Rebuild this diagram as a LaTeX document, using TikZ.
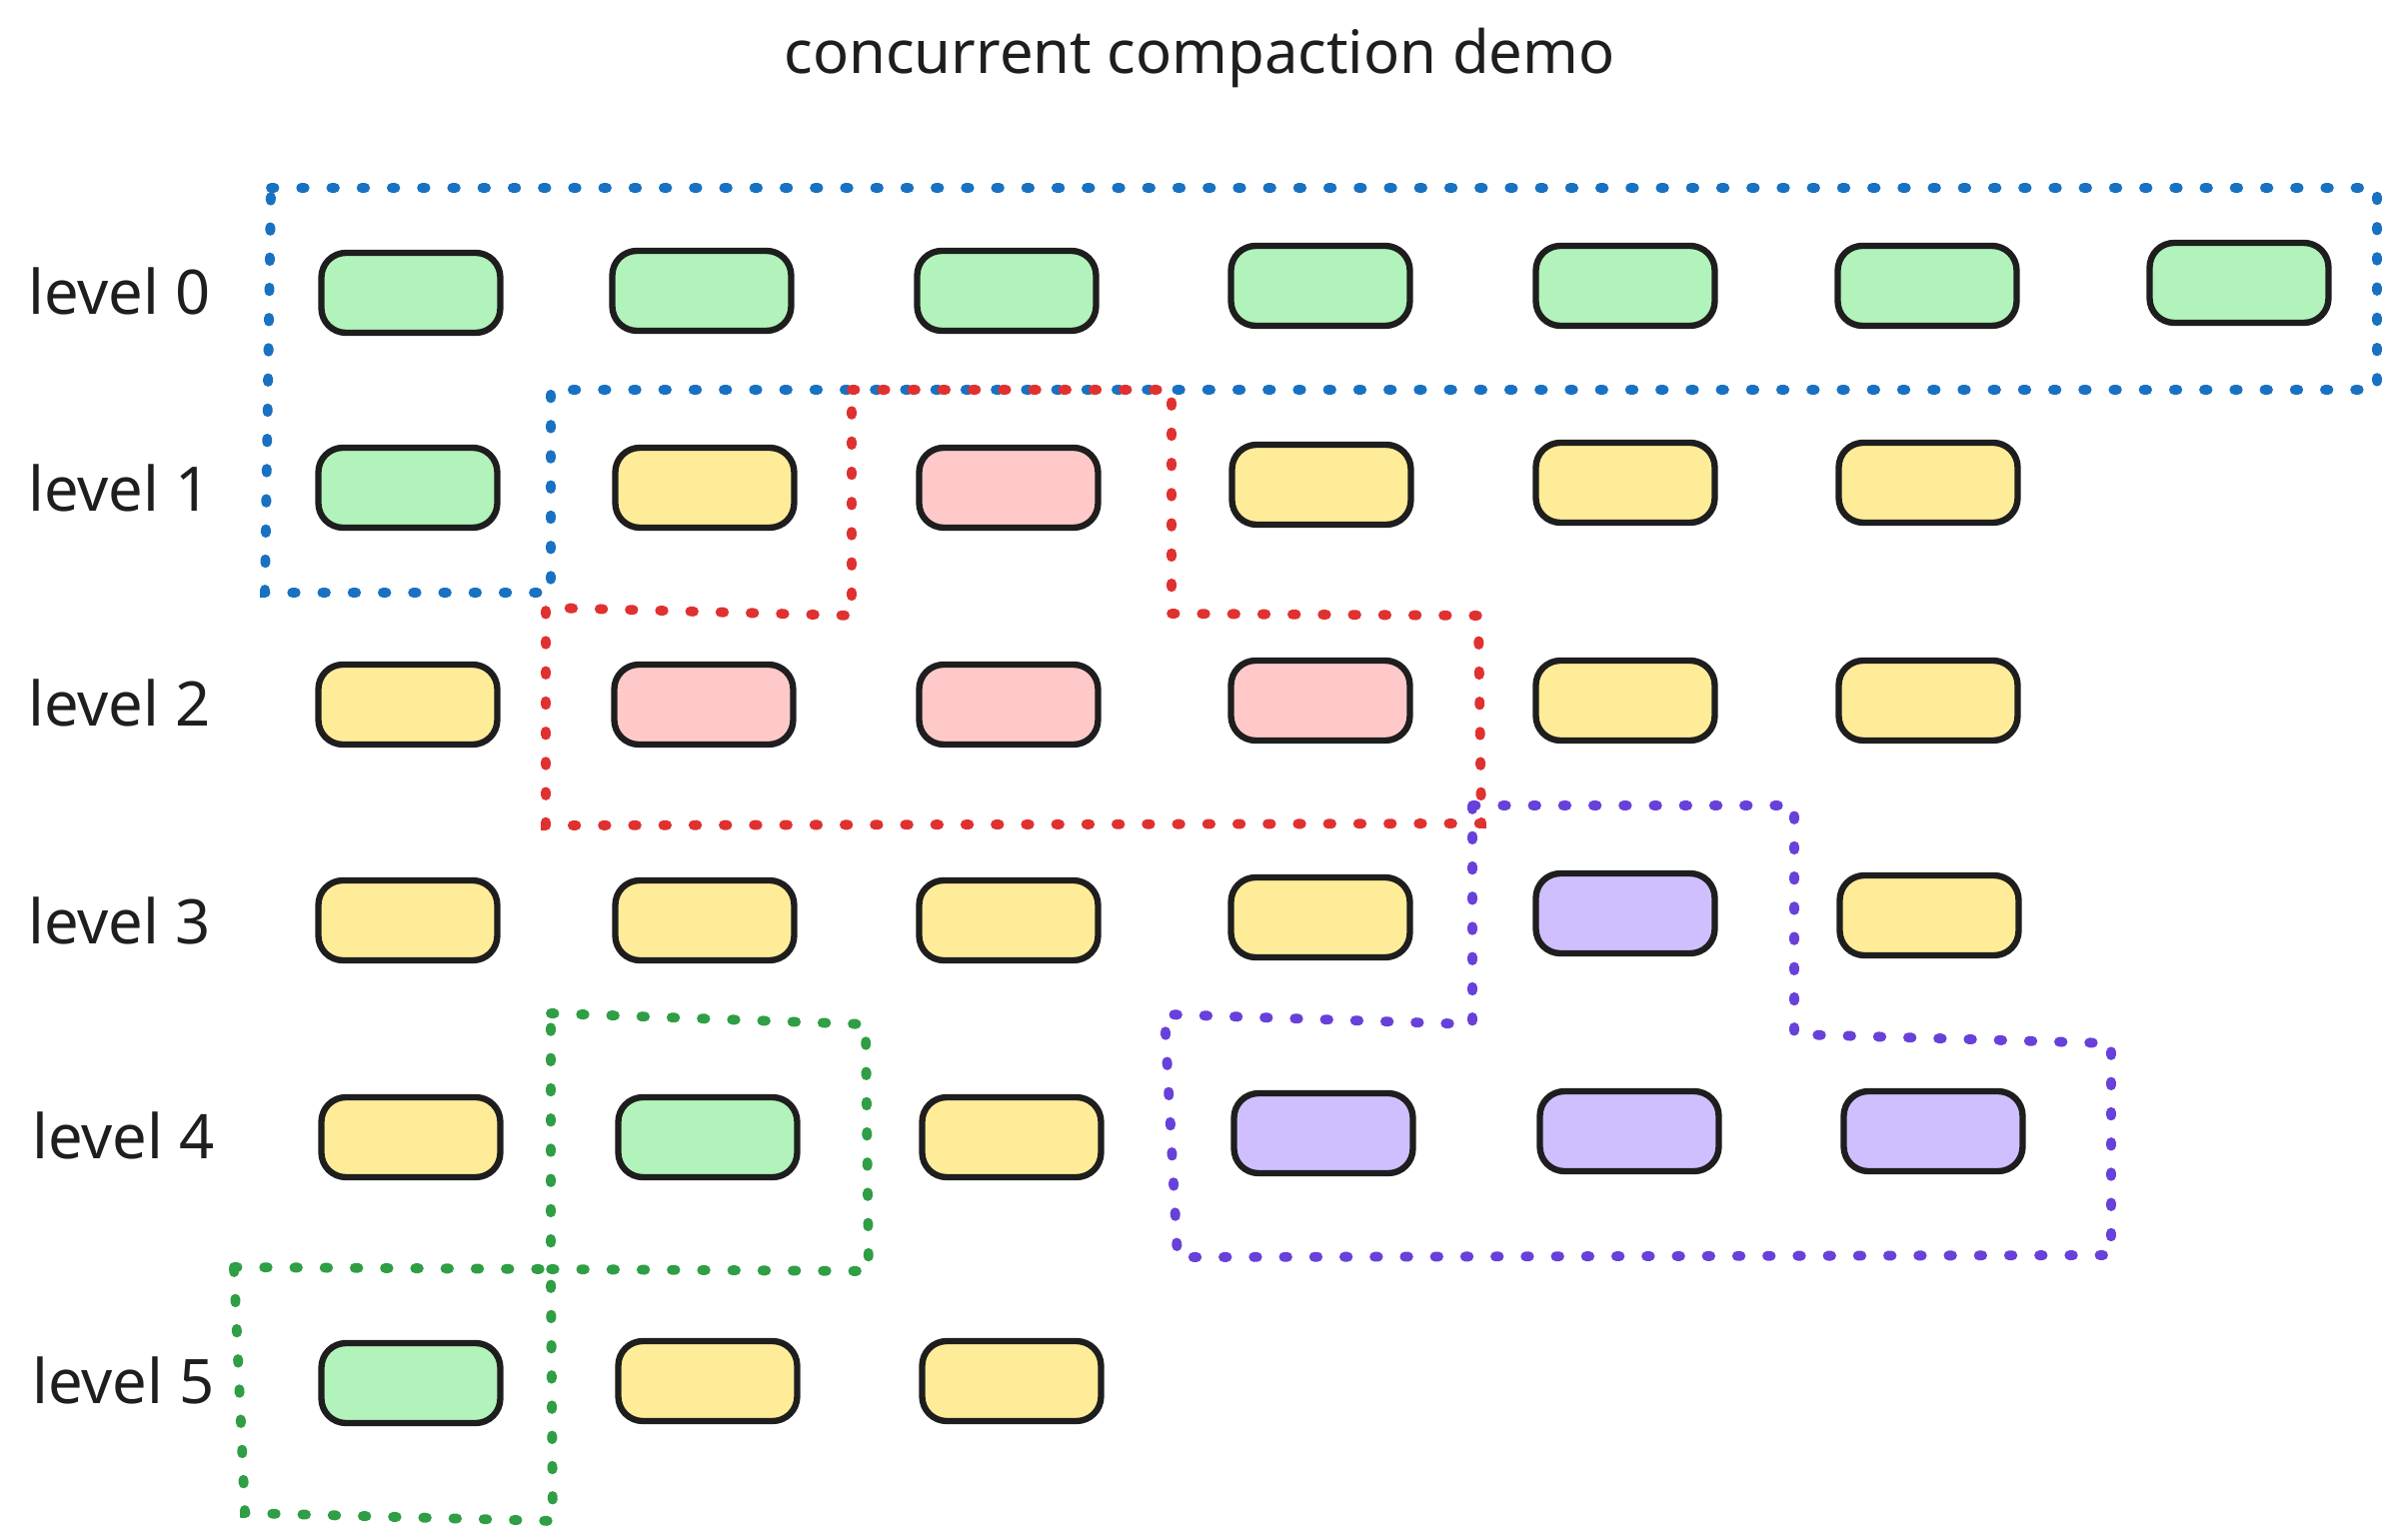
\documentclass[tikz,border=0pt]{standalone}
\usepackage{fontspec}
\setmainfont{Noto Sans}
\definecolor{ink}{HTML}{1E1E1E}
\definecolor{sstgreen}{HTML}{B2F2BB}
\definecolor{sstyellow}{HTML}{FFEC99}
\definecolor{sstred}{HTML}{FFC9C9}
\definecolor{sstpurple}{HTML}{D0BFFF}
\definecolor{zoneblue}{HTML}{1971C2}
\definecolor{zonered}{HTML}{E03131}
\definecolor{zonepurple}{HTML}{6741D9}
\definecolor{zonegreen}{HTML}{2F9E44}
\usetikzlibrary{positioning}
\tikzset{
  sst/.style={draw=ink, line width=1.8pt, rounded corners=7pt,
    minimum width=1.79cm, minimum height=0.8cm, inner sep=0pt},
  sstg/.style={sst, fill=sstgreen},
  ssty/.style={sst, fill=sstyellow},
  sstr/.style={sst, fill=sstred},
  sstp/.style={sst, fill=sstpurple},
  zone/.style={line width=2.8pt, line cap=round, dash pattern=on 1pt off 7.6pt},
  lvl/.style={anchor=west, font=\fontsize{17.5}{20}\selectfont, text=ink},
}
\begin{document}
\begin{tikzpicture}[x=0.1mm, y=-0.1mm]
  \useasboundingbox (0,0) rectangle (2398,1541);
  % Title
  \node[font=\fontsize{17}{20}\selectfont, text=ink] (title) at (1200,58) {concurrent compaction demo};
  % Level labels
  \node[lvl] (lab0) at (16,291) {level 0};
  \node[lvl] (lab1) at (16,488) {level 1};
  \node[lvl] (lab2) at (16,703) {level 2};
  \node[lvl] (lab3) at (16,921) {level 3};
  \node[lvl] (lab4) at (20,1136) {level 4};
  \node[lvl] (lab5) at (20,1381) {level 5};
  % Level 0
  \node[sstg] (a1) at (411,293) {};
  \node[sstg] (a2) at (702,291) {};
  \node[sstg] (a3) at (1007,291) {};
  \node[sstg] (a4) at (1321,286) {};
  \node[sstg] (a5) at (1626,286) {};
  \node[sstg] (a6) at (1928,286) {};
  \node[sstg] (a7) at (2240,283) {};
  % Level 1
  \node[sstg] (b1) at (408,488) {};
  \node[ssty] (b2) at (705,488) {};
  \node[sstr] (b3) at (1009,488) {};
  \node[ssty] (b4) at (1322,485) {};
  \node[ssty] (b5) at (1626,483) {};
  \node[ssty] (b6) at (1929,483) {};
  % Level 2
  \node[ssty] (c1) at (408,705) {};
  \node[sstr] (c2) at (704,705) {};
  \node[sstr] (c3) at (1009,705) {};
  \node[sstr] (c4) at (1321,701) {};
  \node[ssty] (c5) at (1626,701) {};
  \node[ssty] (c6) at (1929,701) {};
  % Level 3
  \node[ssty] (d1) at (408,921) {};
  \node[ssty] (d2) at (705,921) {};
  \node[ssty] (d3) at (1009,921) {};
  \node[ssty] (d4) at (1321,918) {};
  \node[sstp] (d5) at (1626,914) {};
  \node[ssty] (d6) at (1930,916) {};
  % Level 4
  \node[ssty] (e1) at (411,1138) {};
  \node[sstg] (e2) at (708,1138) {};
  \node[ssty] (e3) at (1012,1138) {};
  \node[sstp] (e4) at (1324,1134) {};
  \node[sstp] (e5) at (1630,1132) {};
  \node[sstp] (e6) at (1934,1132) {};
  % Level 5
  \node[sstg] (f1) at (411,1384) {};
  \node[ssty] (f2) at (708,1382) {};
  \node[ssty] (f3) at (1012,1382) {};
  % Compaction zones
  \draw[zone, zoneblue] (271,188) -- (2378,188) -- (2378,390) -- (551,390)
    -- (551,593) -- (265,593) -- cycle;
  \draw[zone, zonered] (852,390) -- (1172,390) -- (1172,614) -- (1479,616)
    -- (1482,824) -- (546,826) -- (546,608) -- (852,616) -- cycle;
  \draw[zone, zonepurple] (1473,806) -- (1795,806) -- (1795,1035) -- (2112,1044)
    -- (2112,1256) -- (1178,1258) -- (1165,1015) -- (1473,1025) -- cycle;
  \draw[zone, zonegreen] (551,1014) -- (866,1025) -- (869,1272) -- (551,1270) -- cycle;
  \draw[zone, zonegreen] (234,1268) -- (551,1270) -- (553,1522) -- (245,1514) -- cycle;
\end{tikzpicture}
\end{document}
